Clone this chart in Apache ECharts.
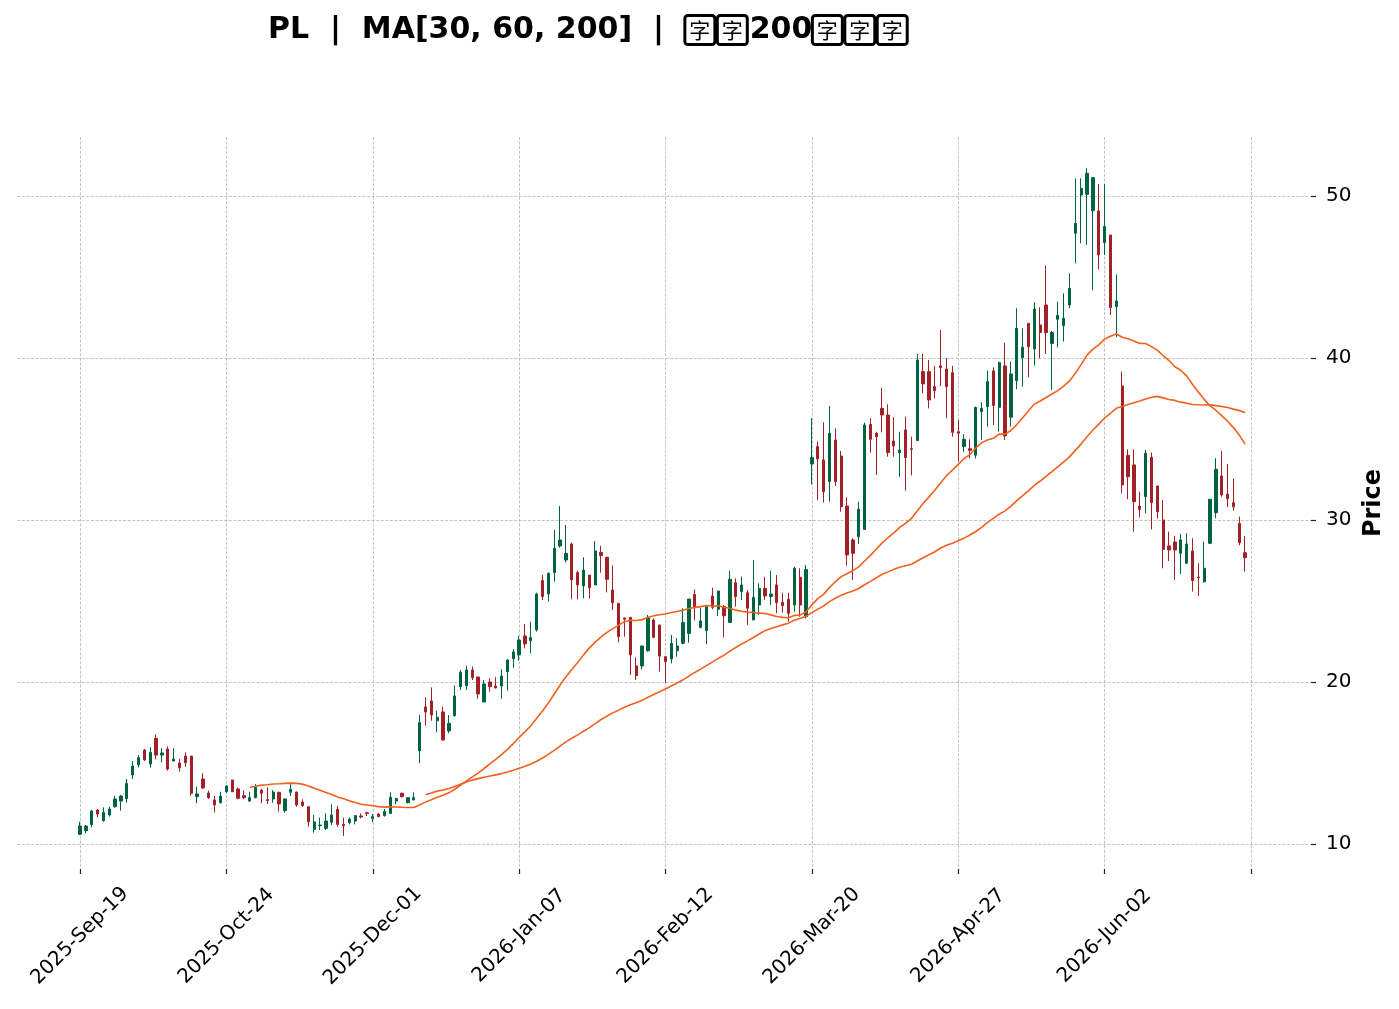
<!DOCTYPE html>
<html>
<head>
<meta charset="utf-8">
<script src="https://cdn.jsdelivr.net/npm/echarts@6/dist/echarts.min.js"></script>
<style>
html,body{margin:0;padding:0;background:#fff;}
#chart{width:1399px;height:1009px;}
</style>
</head>
<body>
<div id="chart"></div>
<script>
// ---- data ----
const tickIndex = [0, 25, 50, 75, 100, 125, 150, 175, 200];
const tickLabels = ["2025-Sep-19", "2025-Oct-24", "2025-Dec-01", "2026-Jan-07", "2026-Feb-12", "2026-Mar-20", "2026-Apr-27", "2026-Jun-02", ""];
const priceTicks = [10, 20, 30, 40, 50];
const maPeriods = [30, 60, 200];

const opens = [10.60,10.82,11.19,12.10,11.44,11.79,12.30,12.65,12.80,14.26,14.88,15.80,14.94,16.52,15.49,15.86,15.12,15.00,15.43,15.43,
12.92,14.01,13.15,12.72,12.55,13.23,13.95,13.40,12.98,12.65,12.86,13.33,12.74,12.78,13.19,12.06,13.19,13.21,12.59,12.30,
10.91,11.13,10.97,11.34,12.14,11.21,11.32,11.42,11.73,11.93,11.58,11.85,11.75,11.89,12.65,13.13,12.55,12.72,15.76,18.46,
18.83,17.61,18.15,16.98,17.92,19.71,19.77,20.74,20.31,18.77,20.00,19.75,19.75,20.64,21.44,21.67,22.84,22.55,23.21,26.26,
25.43,26.75,28.40,27.53,28.52,26.75,25.93,26.60,25.99,28.00,27.70,25.68,24.86,23.95,23.99,20.99,20.99,21.93,23.83,23.52,
21.56,21.42,21.93,22.39,23.00,25.40,23.37,23.17,25.31,24.49,24.65,23.68,26.13,25.58,25.51,23.83,24.75,25.78,25.27,25.99,
24.92,25.10,24.75,26.46,24.03,33.46,34.53,33.70,32.37,34.94,33.95,30.86,28.77,28.97,29.42,35.90,35.35,36.89,36.48,34.88,
34.16,35.56,34.40,34.90,39.16,39.16,38.23,39.51,39.32,39.09,35.45,34.53,34.40,34.00,36.69,37.00,39.20,36.95,39.51,36.34,
38.60,40.02,42.14,40.56,42.04,43.27,40.90,42.39,42.00,43.27,47.70,50.06,50.10,49.09,49.07,47.12,47.59,43.17,38.27,33.99,
33.40,30.86,31.44,33.87,32.10,30.00,28.40,28.64,27.94,27.33,28.09,26.48,26.19,28.56,30.45,32.72,31.60,31.07,29.79,27.98];

const closes = [11.11,11.11,12.04,11.85,11.95,12.16,12.78,12.96,13.74,14.81,15.33,15.19,15.66,15.49,15.62,14.63,15.25,14.71,15.02,13.13,
13.09,13.46,12.86,12.41,12.96,13.58,13.23,12.82,12.86,12.86,13.48,13.13,12.68,13.21,12.47,12.78,13.37,12.41,12.37,11.38,
11.36,11.17,11.42,11.79,11.21,11.13,11.54,11.75,11.67,11.89,11.69,11.69,12.00,12.88,12.80,12.92,12.86,12.86,17.49,18.15,
17.96,17.82,16.42,17.45,19.14,20.60,20.74,20.27,19.26,19.88,19.71,19.63,20.37,21.36,21.85,22.59,22.35,22.74,25.43,25.27,
26.71,28.25,28.77,27.94,26.30,25.99,26.91,25.82,28.09,27.80,26.34,24.90,22.80,23.88,21.67,20.39,22.22,23.99,22.76,21.60,
21.26,22.39,22.22,23.68,25.12,24.60,23.77,24.65,24.61,25.62,24.09,26.34,25.27,25.99,24.55,25.23,25.78,25.31,25.43,24.90,
24.71,24.24,27.02,24.75,26.95,33.85,33.77,31.75,35.35,32.37,30.82,27.84,27.94,30.66,35.86,34.98,35.14,36.48,34.16,34.57,
34.32,33.85,34.36,39.88,38.40,37.41,37.98,39.40,38.23,35.41,35.35,34.98,34.30,36.95,36.89,38.54,37.07,39.71,35.19,39.01,
41.83,40.66,40.70,43.02,41.58,41.56,41.58,42.63,42.45,44.30,48.31,50.47,51.40,51.13,46.36,48.11,43.11,43.52,32.16,32.67,
31.13,30.66,34.12,31.07,30.51,28.19,28.15,28.15,28.77,28.52,26.26,26.44,27.02,31.28,33.13,31.54,31.32,30.82,28.60,27.67];

const lows = [10.55,10.66,11.03,11.65,11.38,11.69,12.24,12.06,12.55,14.01,14.73,15.12,14.71,15.23,15.04,14.53,15.12,14.47,14.77,12.98,
12.51,13.40,12.78,11.95,12.51,13.13,13.20,12.76,12.76,12.61,12.82,12.51,12.47,12.55,12.00,11.93,12.96,12.30,12.30,11.07,
10.70,10.86,10.86,11.17,11.07,10.49,11.21,11.21,11.58,11.73,11.34,11.65,11.69,11.85,12.45,12.88,12.51,12.70,14.98,17.30,
17.61,16.89,16.38,16.83,17.86,19.51,19.51,20.12,18.97,18.74,19.40,19.61,18.97,19.47,20.88,21.32,22.08,21.77,23.11,25.06,
24.96,26.19,28.29,27.37,25.10,25.10,25.16,25.16,25.99,26.75,25.53,24.44,22.45,22.80,20.43,20.12,20.78,21.87,22.70,20.64,
19.92,21.15,21.56,22.33,22.43,23.80,23.31,22.33,24.49,24.07,22.76,23.68,24.65,25.06,23.52,23.83,24.14,25.06,24.75,24.24,
24.28,23.72,24.34,24.03,23.93,32.20,31.23,31.07,31.13,32.10,30.51,27.18,26.30,28.52,29.38,34.16,32.78,35.41,33.91,33.91,
32.67,31.81,32.76,34.90,37.82,36.89,37.51,38.27,36.28,35.14,33.60,34.20,33.80,33.80,34.94,35.76,35.86,35.45,34.94,35.76,
38.07,38.23,38.81,39.53,39.98,40.25,38.02,40.66,41.01,43.07,45.84,47.08,46.98,44.18,45.47,46.36,42.65,41.28,31.65,31.28,
29.28,30.16,30.41,29.42,30.10,27.02,27.47,26.30,26.67,27.28,25.58,25.31,26.13,28.52,30.10,31.44,30.78,30.58,28.44,26.81];

const highs = [11.38,11.17,12.10,12.16,12.26,12.30,12.98,13.02,14.01,15.12,15.49,15.86,15.97,16.77,15.91,16.03,15.91,15.25,15.66,15.43,
13.54,14.36,13.29,12.98,13.23,13.64,13.97,13.48,13.31,13.23,13.70,13.40,13.50,13.33,13.23,12.82,13.70,13.23,12.76,12.30,
11.79,11.63,11.89,12.45,12.35,11.63,11.63,11.79,11.89,12.00,11.85,11.89,12.16,13.19,12.86,13.17,12.88,13.19,17.96,19.05,
19.67,18.23,18.48,17.96,19.79,20.74,21.01,20.95,20.31,20.12,20.23,20.29,20.78,21.40,22.02,22.84,23.58,23.72,25.51,26.60,
26.75,29.38,30.86,29.69,28.60,26.87,27.70,26.60,28.70,28.40,27.70,27.20,24.86,23.97,23.99,21.52,22.26,24.14,23.93,23.52,
21.56,22.90,22.70,24.55,25.12,25.70,24.59,24.75,25.82,25.62,24.75,26.87,26.40,26.50,25.68,27.53,26.09,26.50,26.87,26.60,
25.51,25.51,27.12,27.02,27.22,36.28,34.84,36.03,37.04,35.66,34.26,31.40,28.87,31.13,36.01,36.28,35.45,38.16,37.14,36.34,
35.45,36.38,35.14,40.25,40.25,39.88,39.51,41.73,40.00,39.51,36.17,35.29,34.98,37.00,37.26,39.22,39.42,39.77,40.95,39.77,
43.07,41.83,42.14,43.44,43.13,45.70,41.67,43.48,43.99,45.23,51.09,51.09,51.71,51.13,50.74,50.74,47.59,45.16,39.16,34.36,
34.36,31.75,34.32,34.16,32.10,31.23,29.28,29.01,29.14,29.18,28.87,27.33,28.66,31.28,33.81,34.26,33.46,32.57,30.21,29.01];

// ---- derived ----
const n = closes.length;
const categories = closes.map((_, i) => i);
const candleData = closes.map((c, i) => [opens[i], c, lows[i], highs[i]]);
function movingAverage(period) {
  return closes.map((_, i) => {
    if (i < period - 1) return null;
    let s = 0;
    for (let k = i - period + 1; k <= i; k++) s += closes[k];
    return +(s / period).toFixed(3);
  });
}

// ---- layout ----
const W = 1399, H = 1009;
const axLeft = 17.3, axRight = 1311, axTop = 137, axBottom = 869;
const x0 = 80, step = 5.855;          // pixel centre of candle 0, pixels per candle
const yMin = 8.457, yMax = 53.64;
const xMin = (axLeft - x0) / step, xMax = (axRight - x0) / step;
const bLeft = x0 - step / 2, bRight = x0 + step * (n - 0.5);

const UP = '#006340', DOWN = '#a02128', MA = '#f0601e';
const gridLine = { show: true, lineStyle: { color: '#b4b4b4', width: 0.8, type: [3, 1.6] } };
const FONT = 'DejaVu Sans';

const chart = echarts.init(document.getElementById('chart'), null, { renderer: 'canvas' });
const box = { fontFamily: 'Noto Sans CJK SC', fontSize: 21, fontWeight: 'normal', color: '#000',
  borderColor: '#000', borderWidth: 3, borderRadius: 3, width: 28, height: 25, lineHeight: 25,
  align: 'center', padding: [2, 1, 2, 1] };

chart.setOption({
  animation: false,
  backgroundColor: '#fff',
  title: {
    left: 263, top: 10,
    text: 'PL  |  MA[30, 60, 200]  |  {b|字}{g| }{b|字}{g| }200{b|字}{g| }{b|字}{g| }{b|字}',
    textStyle: { fontFamily: FONT, fontWeight: 'bold', fontSize: 30, color: '#000',
      rich: { b: box, g: { fontSize: 7 } } }
  },
  grid: [
    { left: axLeft, right: W - axRight, top: axTop, bottom: H - axBottom, containLabel: false },
    { left: bLeft, right: W - bRight, top: axTop, bottom: H - axBottom, containLabel: false }
  ],
  xAxis: [
    { type: 'value', gridIndex: 0, min: xMin, max: xMax,
      axisLine: { show: false, onZero: false },
      axisTick: { show: true, length: 5, lineStyle: { color: '#222', width: 1.2 }, customValues: tickIndex },
      axisLabel: { customValues: tickIndex.slice(0, 8), rotate: 45, align: 'center', verticalAlign: 'middle',
        margin: 67, fontFamily: FONT, fontSize: 20, color: '#000',
        formatter: v => tickLabels[tickIndex.indexOf(Math.round(v))] || '' },
      splitLine: gridLine },
    { type: 'category', gridIndex: 1, data: categories, boundaryGap: true, show: false,
      axisLine: { show: false, onZero: false } }
  ],
  yAxis: [
    { type: 'value', gridIndex: 0, position: 'right', min: yMin, max: yMax,
      axisLine: { show: false, onZero: false },
      axisTick: { show: true, length: 5, lineStyle: { color: '#222', width: 1.2 }, customValues: priceTicks },
      axisLabel: { customValues: priceTicks, margin: 15, fontFamily: FONT, fontSize: 20, color: '#000' },
      splitLine: gridLine,
      name: 'Price', nameLocation: 'middle', nameRotate: 90, nameGap: 51, nameMoveOverlap: false,
      nameTextStyle: { fontFamily: FONT, fontWeight: 'bold', fontSize: 24, color: '#000' } },
    { type: 'value', gridIndex: 1, min: yMin, max: yMax, show: false, splitLine: { show: false },
      axisLine: { show: false, onZero: false } }
  ],
  series: [
    { type: 'candlestick', name: 'PL', xAxisIndex: 1, yAxisIndex: 1, data: candleData, barWidth: 2.8,
      itemStyle: { color: UP, color0: DOWN, borderColor: UP, borderColor0: DOWN, borderWidth: 1 }, z: 2 },
  ].concat(maPeriods.map(p => ({
      type: 'line', name: 'MA' + p, xAxisIndex: 1, yAxisIndex: 1, data: movingAverage(p),
      showSymbol: false, symbol: 'none', connectNulls: false, z: 3,
      lineStyle: { color: MA, width: 1.6 } })))
});
</script>
</body>
</html>
